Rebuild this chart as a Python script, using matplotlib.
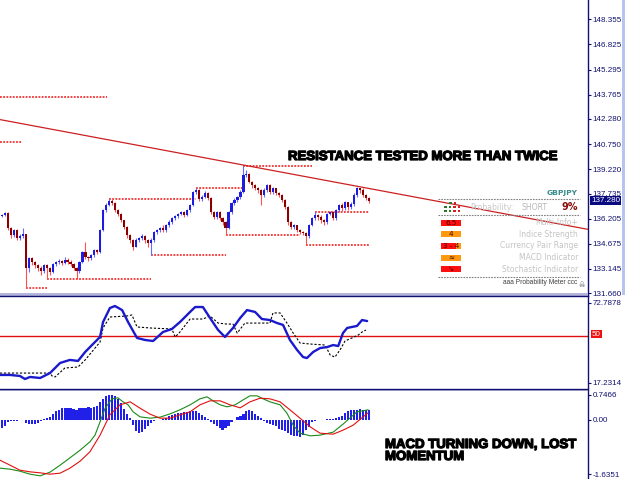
import numpy as np
import matplotlib.pyplot as plt
import matplotlib.patheffects as pe
from matplotlib.lines import Line2D
from matplotlib.patches import Rectangle

plt.rcParams['font.family'] = ['Liberation Sans', 'DejaVu Sans']

W, H = 625, 479

# ---- price candles (bar index 0..123) ----
first_open = 136.35
closes = [136.41, 136.53, 135.61, 135.19, 135.49, 135.00, 135.12, 135.25, 133.17, 133.78,
          133.54, 133.36, 133.17, 132.99, 133.36, 133.17, 132.93, 133.42, 133.54, 133.60,
          133.48, 133.66, 133.54, 133.42, 133.17, 132.99, 133.54, 134.15, 133.84, 133.78,
          133.97, 134.27, 134.15, 135.49, 136.71, 137.02, 137.26, 137.14, 136.71, 136.47,
          136.10, 135.67, 135.19, 134.88, 134.51, 134.88, 135.00, 135.12, 134.88, 134.70,
          134.88, 135.37, 135.49, 135.61, 135.49, 135.80, 135.98, 136.22, 136.34, 136.47,
          136.59, 136.41, 136.71, 137.02, 137.81, 137.93, 137.38, 137.50, 137.75, 137.44,
          136.59, 136.28, 136.59, 136.22, 135.98, 135.61, 136.59, 137.14, 137.32, 137.50,
          137.81, 138.85, 138.91, 138.42, 138.24, 138.05, 137.93, 137.63, 137.93, 138.24,
          137.81, 138.05, 137.75, 137.63, 137.32, 136.89, 135.98, 135.67, 135.80, 135.49,
          135.37, 135.31, 135.12, 135.80, 136.22, 136.41, 136.28, 136.10, 135.98, 136.47,
          136.59, 136.22, 136.71, 137.02, 136.83, 137.20, 136.89, 137.08, 137.63, 138.05,
          137.93, 137.63, 137.44, 137.28]
highs = [136.50, 136.60, 136.62, 135.70, 135.60, 135.55, 135.25, 135.61, 135.30, 133.90,
         133.85, 133.60, 133.45, 133.30, 133.45, 133.45, 133.25, 133.50, 133.65, 133.72,
         133.70, 133.85, 133.78, 133.66, 133.50, 133.25, 133.60, 134.25, 134.76, 133.95,
         134.05, 134.35, 134.35, 135.60, 136.80, 137.15, 137.38, 137.38, 137.20, 136.80,
         136.55, 136.15, 135.75, 135.25, 134.95, 135.00, 135.10, 135.25, 135.20, 134.95,
         135.00, 135.45, 135.60, 135.70, 135.80, 135.90, 136.10, 136.30, 136.45, 136.55,
         136.65, 136.70, 136.80, 137.10, 137.90, 138.05, 138.00, 137.65, 137.90, 137.85,
         137.50, 136.65, 136.70, 136.65, 136.30, 136.05, 136.70, 137.25, 137.45, 137.60,
         137.95, 139.39, 139.20, 139.00, 138.50, 138.30, 138.15, 138.00, 138.05, 138.30,
         138.30, 138.15, 138.10, 137.85, 137.70, 137.40, 136.95, 136.05, 135.90, 135.85,
         135.55, 135.45, 135.40, 135.90, 136.30, 136.59, 136.50, 136.40, 136.20, 136.55,
         136.70, 136.65, 136.80, 137.10, 137.15, 137.30, 137.25, 137.20, 137.75, 138.15,
         138.10, 138.05, 137.70, 137.50]
lows = [136.28, 136.35, 135.50, 135.05, 135.10, 134.88, 134.92, 135.05, 132.01, 132.95,
        133.40, 133.20, 133.00, 132.75, 132.90, 132.56, 132.75, 132.88, 133.35, 133.45,
        133.40, 133.42, 133.45, 133.35, 133.05, 132.56, 132.90, 133.48, 133.75, 133.65,
        133.70, 133.90, 134.05, 134.10, 135.45, 136.60, 136.95, 137.05, 136.60, 136.35,
        136.00, 135.55, 135.05, 134.75, 134.30, 134.45, 134.80, 134.90, 134.75, 134.45,
        133.97, 134.80, 135.30, 135.40, 135.40, 135.40, 135.70, 135.90, 136.15, 136.25,
        136.40, 136.30, 136.35, 136.60, 136.95, 137.70, 137.30, 137.30, 137.45, 137.35,
        136.50, 136.20, 136.20, 136.10, 135.85, 135.19, 135.55, 136.50, 137.05, 137.20,
        137.40, 137.75, 138.75, 138.35, 138.10, 137.95, 137.80, 137.02, 137.55, 137.85,
        137.70, 137.70, 137.65, 137.55, 137.20, 136.80, 135.85, 135.55, 135.55, 135.40,
        135.25, 135.19, 134.58, 135.05, 135.75, 136.15, 136.15, 135.95, 135.85, 135.90,
        136.40, 136.10, 136.10, 136.60, 136.70, 136.75, 136.75, 136.80, 137.00, 137.55,
        137.80, 137.55, 137.35, 137.15]
last_price = 137.280

# dotted support / resistance levels: price, from bar, to bar
level_price = [143.60, 140.86, 139.39, 138.05, 137.38, 135.19, 134.58, 136.59, 133.97, 132.56, 132.01]
level_from = [-0.7, -0.7, 81, 65, 36, 75, 102, 105, 50, 15, 8]
level_to = [35.2, 6.7, 104, 81, 65, 100, 123.5, 123, 75, 50, 15]

# trend line anchors (bar, price)
trend_a = (0, 142.22)
trend_b = (123, 138.05)

price_ticks = [148.355, 146.825, 145.295, 143.765, 142.280, 140.750, 139.220,
               137.735, 136.205, 134.675, 133.145, 131.660]

# ---- stochastic ----
stoch_x = [-0.7, 2.7, 6.0, 7.7, 9.4, 12.8, 16.1, 19.5, 22.8, 25.5, 27.9, 31.2, 32.9, 33.9,
           36.2, 37.9, 40.3, 42.3, 45.3, 48.0, 50.7, 54.0, 57.0, 59.7, 63.1, 64.8, 67.4,
           69.8, 72.5, 74.8, 77.5, 79.9, 82.2, 84.9, 87.2, 89.9, 92.3, 94.3, 96.6, 99.0,
           101.0, 102.3, 104.4, 106.7, 109.1, 111.1, 112.8, 114.4, 115.8, 117.4, 119.1,
           120.8, 122.5]
stoch_main = [22.8, 22.8, 22.1, 20.0, 21.4, 20.7, 24.1, 31.1, 33.2, 32.5, 38.7, 45.6, 49.1,
              59.4, 69.1, 70.5, 67.7, 59.4, 48.4, 47.0, 46.3, 52.5, 54.6, 59.4, 66.4, 69.8,
              69.8, 62.2, 53.9, 49.1, 55.3, 62.2, 67.7, 66.4, 61.5, 60.8, 58.7, 57.4, 47.0,
              40.1, 35.2, 34.5, 38.7, 41.4, 42.1, 43.5, 42.8, 51.8, 55.3, 56.0, 56.7, 60.8,
              60.1]
sig_x = [-0.7, 16.1, 16.8, 17.8, 21.1, 25.5, 27.9, 31.2, 32.9, 33.9, 36.2, 41.9, 43.6, 45.3,
         49.7, 57.0, 58.1, 59.7, 63.1, 67.4, 69.8, 72.5, 75.5, 77.5, 78.9, 81.5, 84.2, 89.9,
         90.9, 93.3, 95.6, 97.7, 100.0, 103.4, 108.4, 110.1, 111.7, 113.4, 115.1, 117.4,
         119.5, 120.8, 122.1]
stoch_signal = [24.1, 24.1, 22.1, 21.4, 27.6, 28.3, 33.2, 41.4, 45.6, 55.3, 62.9, 63.6, 64.3,
                56.0, 55.3, 54.6, 49.1, 52.5, 61.5, 61.5, 63.6, 58.7, 58.0, 58.0, 51.8, 58.7,
                58.7, 58.7, 65.7, 65.7, 58.7, 51.8, 44.9, 44.2, 43.5, 36.6, 35.2, 40.1, 46.3,
                48.4, 50.4, 52.5, 53.9]
stoch_ticks = [72.7878, 17.2314]
stoch_level = 50

# ---- MACD ----
macd_hist = [-0.25, -0.20, -0.06, -0.05, -0.04, -0.03, -0.02, -0.01, -0.10, -0.12,
             -0.12, -0.12, -0.11, -0.05, 0.03, 0.06, 0.08, 0.16, 0.25, 0.30,
             0.34, 0.36, 0.36, 0.34, 0.33, 0.30, 0.34, 0.36, 0.35, 0.37,
             0.36, 0.38, 0.42, 0.52, 0.62, 0.70, 0.74, 0.75, 0.72, 0.62,
             0.50, 0.32, 0.18, 0.05, -0.15, -0.35, -0.40, -0.36, -0.28, -0.18,
             -0.10, -0.05, -0.02, 0.00, 0.02, 0.06, 0.10, 0.14, 0.17, 0.20,
             0.20, 0.22, 0.24, 0.25, 0.27, 0.25, 0.20, 0.15, 0.08, 0.02,
             -0.06, -0.12, -0.20, -0.26, -0.30, -0.25, -0.18, -0.08, 0.00, 0.08,
             0.12, 0.18, 0.26, 0.30, 0.26, 0.18, 0.10, 0.04, -0.05, -0.10,
             -0.13, -0.15, -0.20, -0.28, -0.32, -0.35, -0.40, -0.45, -0.50, -0.50,
             -0.52, -0.45, -0.30, -0.22, -0.08, -0.03, -0.02, -0.02, -0.01, 0.01,
             0.02, 0.03, 0.05, 0.08, 0.12, 0.20, 0.26, 0.28, 0.30, 0.30,
             0.31, 0.30, 0.30, 0.28]
green_x = [-0.7, 2.7, 6.0, 9.4, 12.8, 16.1, 19.5, 22.8, 26.2, 29.5, 31.2, 32.9, 34.6, 36.9,
           38.9, 40.6, 42.3, 44.0, 46.3, 49.7, 53.0, 56.4, 59.7, 63.1, 66.4, 68.8, 70.8,
           73.2, 75.5, 78.2, 80.9, 83.2, 85.6, 87.6, 89.9, 93.3, 95.6, 97.7, 100.0, 103.4,
           106.7, 111.1, 114.4, 119.1, 122.8]
macd_green = [-1.46, -1.49, -1.55, -1.64, -1.69, -1.58, -1.37, -1.15, -0.92, -0.67, -0.47,
              -0.07, 0.34, 0.62, 0.65, 0.53, 0.44, 0.23, 0.08, 0.04, 0.07, 0.17, 0.29, 0.44,
              0.62, 0.68, 0.56, 0.44, 0.38, 0.44, 0.59, 0.71, 0.71, 0.62, 0.53, 0.44, 0.19,
              -0.17, -0.41, -0.49, -0.47, -0.38, -0.14, 0.23, 0.29]
red_x = [-0.7, 2.7, 6.0, 9.4, 12.8, 16.1, 19.5, 22.8, 26.2, 29.5, 32.9, 36.2, 39.6, 43.0,
         46.3, 49.7, 53.0, 56.4, 59.7, 63.1, 66.4, 69.8, 73.2, 76.5, 79.9, 83.2, 86.6, 89.9,
         93.3, 96.6, 100.0, 103.4, 106.7, 111.1, 114.4, 117.8, 122.8]
macd_red = [-1.22, -1.37, -1.52, -1.57, -1.60, -1.64, -1.61, -1.46, -1.25, -0.97, -0.47,
            0.14, 0.44, 0.53, 0.34, 0.16, 0.04, 0.04, 0.14, 0.23, 0.44, 0.56, 0.56, 0.44,
            0.35, 0.53, 0.64, 0.62, 0.53, 0.29, 0.04, -0.22, -0.41, -0.44, -0.32, -0.17, 0.20]
macd_ticks = [0.7466, 0.0, -1.6351]
macd_tick_labels = ['0.7466', '0.00', '-1.6351']

# ---- probability meter panel ----
pair = 'GBPJPY'
direction = 'SHORT'
probability = '9%'
meter_values = ['6.5', '4', '3 - 4', '\u2248', '\u2198']
meter_labels = ['Multi-Info+', 'Indice Strength', 'Currency Pair Range',
                'MACD Indicator', 'Stochastic Indicator']
meter_colors = ['#ff1010', '#ff9a10', '#ff1010', '#ff9a10', '#ff1010']

NAVY = '#10106e'


def fx(x):
    return x / W


def fy(y):
    return 1 - y / H


def panel(top, bottom):
    return [0, 1 - bottom / H, 588 / W, (bottom - top) / H]


fig = plt.figure(figsize=(W / 100, H / 100), dpi=100)
fig.patch.set_facecolor('white')

ax = fig.add_axes(panel(0, 295))
ax_st = fig.add_axes(panel(296, 388))
ax_md = fig.add_axes(panel(390, 479))

xlim = (-0.67, 196.6)
for a in (ax, ax_st, ax_md):
    a.set_xlim(*xlim)
    a.set_xticks([])
    for s in ('top', 'left', 'bottom'):
        a.spines[s].set_visible(False)
    a.spines['right'].set_color(NAVY)
    a.spines['right'].set_linewidth(1)
    a.yaxis.tick_right()
    a.tick_params(axis='y', direction='out', length=2.5, width=0.8, color=NAVY,
                  labelsize=5.8, labelcolor=NAVY, pad=1)
    a.set_facecolor('white')

# main chart
ax.set_ylim(131.555, 149.53)
ax.set_yticks(price_ticks)
ax.set_yticklabels([f'{t:.3f}' for t in price_ticks])

idx = np.arange(len(closes))
c = np.array(closes)
o = np.array([first_open] + closes[:-1])
hi = np.array(highs)
lo = np.array(lows)
up = c >= o
body_lo = np.minimum(o, c)
body_h = np.maximum(np.abs(c - o), 0.03)

ax.vlines(idx[up], lo[up], hi[up], color='#6a6aff', lw=0.8, zorder=2)
ax.vlines(idx[~up], lo[~up], hi[~up], color='#ff5050', lw=0.8, zorder=2)
ax.bar(idx[up], body_h[up], bottom=body_lo[up], width=0.72, color='#1c1ce0', lw=0, zorder=3)
ax.bar(idx[~up], body_h[~up], bottom=body_lo[~up], width=0.72, color='#8a0000', lw=0, zorder=3)

ax.hlines(level_price, level_from, level_to, colors='#f01010', lw=1.1,
          linestyles=(0, (1.2, 0.9)), zorder=1)
ax.axline(trend_a, trend_b, color='#cc2020', lw=0.9, zorder=4)

# stochastic
ax_st.set_ylim(13.77, 77.43)
ax_st.set_yticks(stoch_ticks)
ax_st.set_yticklabels([f'{t:.4f}' for t in stoch_ticks])
ax_st.axhline(stoch_level, color='#e01010', lw=1.0)
ax_st.plot(sig_x, stoch_signal, color='black', lw=0.8, ls=(0, (2, 1.6)))
ax_st.plot(stoch_x, stoch_main, color='#1a1acc', lw=1.7, solid_capstyle='round')

# MACD
ax_md.set_ylim(-1.785, 0.885)
ax_md.set_yticks(macd_ticks)
ax_md.set_yticklabels(macd_tick_labels)
ax_md.bar(idx, macd_hist, width=0.72, color='#2020e8', lw=0)
ax_md.plot(green_x, macd_green, color='#1a8a1a', lw=0.8)
ax_md.plot(red_x, macd_red, color='#e01010', lw=0.8)

# panel separators and right edge
fig.add_artist(Rectangle((0, fy(295.5)), fx(588), 3 / H, color='#b4b4dc', lw=0))
fig.add_artist(Line2D([0, fx(588)], [fy(295.5)] * 2, color=NAVY, lw=1))
fig.add_artist(Line2D([0, fx(588)], [fy(388.5)] * 2, color=NAVY, lw=1))
fig.add_artist(Rectangle((0, fy(391)), fx(588), 2.5 / H, color='#b4b4dc', lw=0))
fig.add_artist(Rectangle((fx(622), fy(295)), 3 / W, 295 / H, color='#b6c4ee', lw=0))

# current price and level tag
fig.text(fx(591), fy(200.5), f'{last_price:.3f}', color='white', fontsize=5.8,
         va='center', ha='left',
         bbox=dict(boxstyle='square,pad=0.12', fc='#0a0a80', ec='none'))
fig.text(fx(592), fy(334), str(stoch_level), color='white', fontsize=5.8,
         va='center', ha='left',
         bbox=dict(boxstyle='square,pad=0.1', fc='#f01010', ec='none'))

# annotations
heavy = [pe.withStroke(linewidth=0.9, foreground='black')]
fig.text(fx(288), fy(160), 'RESISTANCE TESTED MORE THAN TWICE', fontsize=9.5,
         fontweight='bold', va='baseline', ha='left', color='black', path_effects=heavy)
fig.text(fx(385), fy(448), 'MACD TURNING DOWN, LOST', fontsize=9.5,
         fontweight='bold', va='baseline', ha='left', color='black', path_effects=heavy)
fig.text(fx(385), fy(460), 'MOMENTUM', fontsize=9.5,
         fontweight='bold', va='baseline', ha='left', color='black', path_effects=heavy)

# probability meter box
fig.text(fx(578), fy(193.5), pair, fontsize=5.4, fontweight='bold', color='#3a8c8c',
         family='DejaVu Sans', ha='right', va='center')
for yy in (198.5, 215, 276.5):
    fig.add_artist(Line2D([fx(438), fx(580)], [fy(yy)] * 2, color='#808080', lw=0.8,
                          ls=(0, (1.5, 1))))
icon = [(449, 203, '#2a7a2a'), (453.5, 203, '#d02020'),
        (444, 207, '#2a7a2a'), (448.5, 207, '#2a7a2a'), (453, 207, '#d02020'), (457.5, 207, '#d02020'),
        (444, 211, '#2a7a2a'), (448.5, 211, '#2a7a2a'), (453, 211, '#d02020'), (457.5, 211, '#d02020')]
for px_, py_, col in icon:
    fig.add_artist(Rectangle((fx(px_), fy(py_ + 1.3)), 2.6 / W, 2.6 / H, color=col, lw=0))
fig.text(fx(470), fy(207), 'Probability:', fontsize=5.6, color='#c8c8c8',
         family='DejaVu Sans', ha='left', va='center')
fig.text(fx(522), fy(207), direction, fontsize=5.6, color='#b8b8b8',
         family='DejaVu Sans', ha='left', va='center')
fig.text(fx(578), fy(207), probability, fontsize=7, fontweight='bold', color='#8a1010',
         family='DejaVu Sans', ha='right', va='center')

for k, (val, lab, col) in enumerate(zip(meter_values, meter_labels, meter_colors)):
    yc = 222.7 + k * 11.65
    fig.add_artist(Rectangle((fx(441), fy(yc + 3)), 20 / W, 6 / H, color=col, lw=0))
    if k == 2:
        fig.add_artist(Rectangle((fx(455.5), fy(yc + 3)), 5.5 / W, 6 / H,
                                 color='#ff9a10', lw=0))
    fig.text(fx(451), fy(yc), val, fontsize=5.2, color='#4a0000', family='DejaVu Sans',
             ha='center', va='center')
    fig.text(fx(578), fy(yc), lab, fontsize=5.5, color='#c4c4c4', family='DejaVu Sans',
             ha='right', va='center')

fig.text(fx(577), fy(282), 'aaa Probability Meter ccc', fontsize=4.8, color='#404040',
         ha='right', va='center')
fig.text(fx(582), fy(285), '\u2620', fontsize=5, color='#606060', family='DejaVu Sans',
         ha='center', va='center')

fig.savefig('out.png', dpi=100)
